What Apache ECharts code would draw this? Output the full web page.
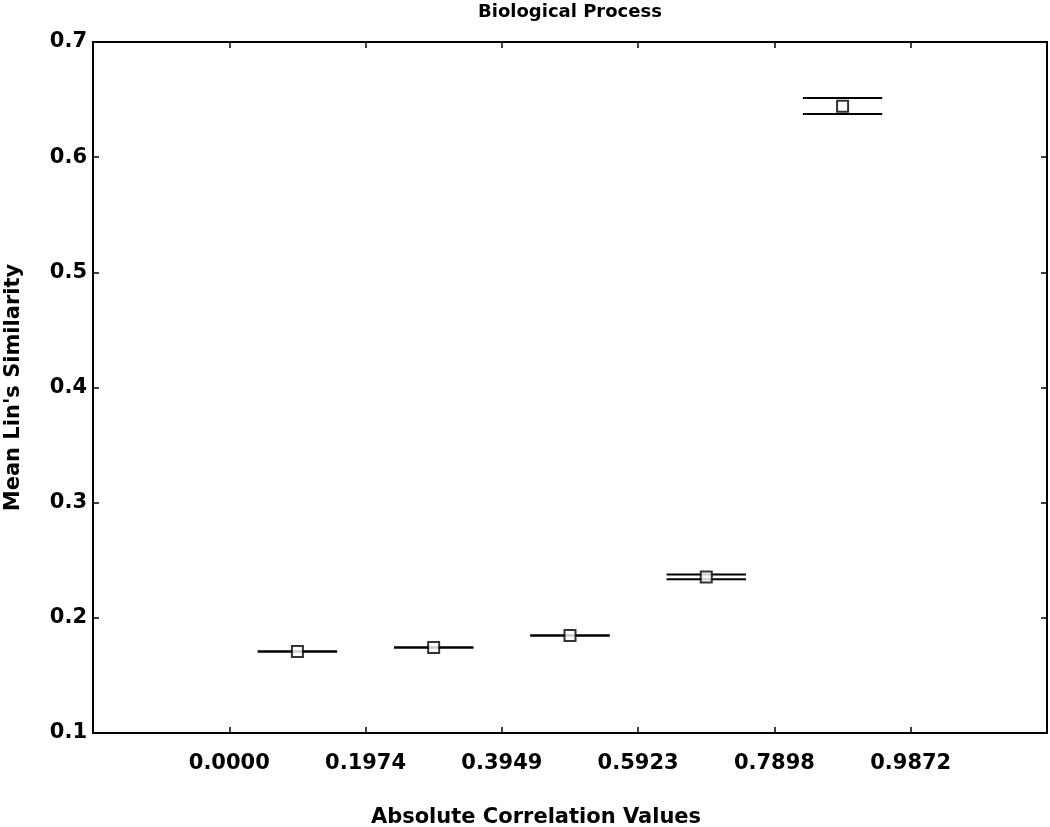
<!DOCTYPE html>
<html>
<head>
<meta charset="utf-8">
<script src="https://cdn.jsdelivr.net/npm/echarts@6/dist/echarts.min.js"></script>
<style>
  html, body { margin: 0; padding: 0; background: #fff; }
  #chart { width: 1050px; height: 827px; }
</style>
</head>
<body>
<div id="chart"></div>
<script>
// data
const xStep = 0.19744;
const xCenters = [0.0987, 0.2961, 0.4936, 0.6910, 0.8885];
const means = [0.1708, 0.1742, 0.1846, 0.2355, 0.6442];
const lower = [0.1708, 0.1742, 0.1846, 0.2336, 0.6375];
const upper = [0.1708, 0.1742, 0.1846, 0.2377, 0.6513];
const halfWidth = 0.0575;

const font = '"DejaVu Sans", Verdana, sans-serif';

const chart = echarts.init(document.getElementById('chart'));

const barData = xCenters.map((x, i) => [x, lower[i], upper[i]]);
const pointData = xCenters.map((x, i) => [x, means[i]]);

// two horizontal lines (lower / upper) for every group
function renderBars(params, api) {
  const x = api.value(0);
  const lo = api.value(1);
  const hi = api.value(2);
  const style = { stroke: '#000', lineWidth: 2 };
  const a1 = api.coord([x - halfWidth, lo]);
  const b1 = api.coord([x + halfWidth, lo]);
  const a2 = api.coord([x - halfWidth, hi]);
  const b2 = api.coord([x + halfWidth, hi]);
  return {
    type: 'group',
    children: [
      { type: 'line', shape: { x1: a1[0], y1: a1[1], x2: b1[0], y2: b1[1] }, style: style },
      { type: 'line', shape: { x1: a2[0], y1: a2[1], x2: b2[0], y2: b2[1] }, style: style }
    ]
  };
}

const edgeLabel = (v) => {
  if (v < 0 || v > 1.1) return '';
  return v.toFixed(4);
};

const frameLine = { show: true, onZero: false, lineStyle: { color: '#000', width: 2 } };
const inTick = { show: true, inside: true, length: 6, lineStyle: { color: '#000', width: 1.5 } };

const option = {
  backgroundColor: '#fff',
  animation: false,
  title: {
    text: 'Biological Process',
    left: 565,
    textAlign: 'center',
    top: -2,
    textStyle: { fontFamily: font, fontSize: 18, fontWeight: 'bold', color: '#000' }
  },
  grid: {
    left: 93,
    top: 42,
    right: 3,
    bottom: 94,
    outerBoundsMode: 'none',
    containLabel: false,
    show: true,
    borderColor: '#000',
    borderWidth: 2,
    backgroundColor: '#fff'
  },
  xAxis: [
    {
      type: 'value',
      min: -xStep,
      max: 6 * xStep,
      interval: xStep,
      position: 'bottom',
      splitLine: { show: false },
      axisLine: frameLine,
      axisTick: inTick,
      axisLabel: {
        formatter: edgeLabel,
        margin: 20,
        color: '#000',
        fontFamily: font,
        fontSize: 21,
        fontWeight: 'bold'
      },
      name: 'Absolute Correlation Values',
      nameLocation: 'middle',
      nameGap: 74,
      nameTextStyle: {
        fontFamily: font,
        fontSize: 21,
        fontWeight: 'bold',
        color: '#000',
        padding: [0, 68, 0, 0]
      }
    },
    {
      type: 'value',
      min: -xStep,
      max: 6 * xStep,
      interval: xStep,
      position: 'top',
      splitLine: { show: false },
      axisLine: frameLine,
      axisTick: inTick,
      axisLabel: { show: false }
    }
  ],
  yAxis: [
    {
      type: 'value',
      min: 0.1,
      max: 0.7,
      interval: 0.1,
      position: 'left',
      splitLine: { show: false },
      axisLine: frameLine,
      axisTick: inTick,
      axisLabel: {
        formatter: (v) => v.toFixed(1),
        margin: 6,
        color: '#000',
        fontFamily: font,
        fontSize: 21,
        fontWeight: 'bold'
      },
      name: "Mean Lin's Similarity",
      nameLocation: 'middle',
      nameGap: 69,
      nameTextStyle: {
        fontFamily: font,
        fontSize: 21,
        fontWeight: 'bold',
        color: '#000'
      }
    },
    {
      type: 'value',
      min: 0.1,
      max: 0.7,
      interval: 0.1,
      position: 'right',
      splitLine: { show: false },
      axisLine: frameLine,
      axisTick: inTick,
      axisLabel: { show: false }
    }
  ],
  series: [
    {
      type: 'custom',
      xAxisIndex: 0,
      yAxisIndex: 0,
      renderItem: renderBars,
      data: barData,
      z: 2
    },
    {
      type: 'scatter',
      xAxisIndex: 0,
      yAxisIndex: 0,
      data: pointData,
      symbol: 'rect',
      symbolSize: 11,
      itemStyle: { color: '#fff', borderColor: '#000', borderWidth: 2 },
      z: 3
    }
  ]
};

chart.setOption(option);
</script>
</body>
</html>
